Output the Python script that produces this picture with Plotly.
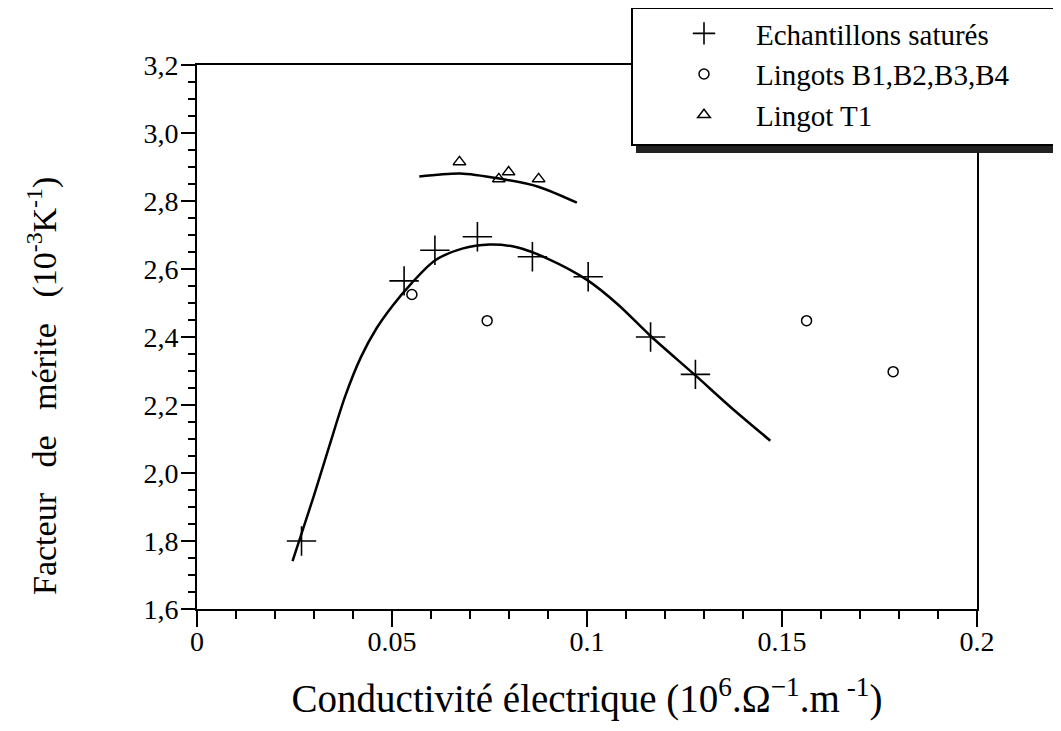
import plotly.graph_objects as go

# Echantillons saturés (+)
sat_x = [0.0268, 0.0531, 0.0610, 0.0719, 0.0860, 0.1003, 0.1163, 0.1278]
sat_y = [1.80, 2.565, 2.655, 2.695, 2.636, 2.577, 2.400, 2.290]

# Lingots B1,B2,B3,B4 (o)
b_x = [0.0551, 0.0744, 0.1563, 0.1785]
b_y = [2.525, 2.448, 2.448, 2.298]

# Lingot T1 (triangles)
t_x = [0.0673, 0.0774, 0.0799, 0.0876]
t_y = [2.915, 2.865, 2.885, 2.865]

# fitted curves
fit_sat_x = [0.0245, 0.0300, 0.0340, 0.0380, 0.0420, 0.0460, 0.0500, 0.0550, 0.0610,
             0.0680, 0.0750, 0.0820, 0.0900, 0.1000, 0.1080, 0.1163, 0.1278, 0.1370,
             0.1470]
fit_sat_y = [1.741, 1.934, 2.082, 2.226, 2.340, 2.425, 2.490, 2.558, 2.625,
             2.660, 2.672, 2.664, 2.630, 2.568, 2.495, 2.403, 2.287, 2.192,
             2.095]

fit_t_x = [0.0570, 0.0675, 0.0775, 0.0875, 0.0974]
fit_t_y = [2.872, 2.881, 2.866, 2.842, 2.795]

x_ticks = [0, 0.05, 0.1, 0.15, 0.2]
x_labels = ["0", "0.05", "0.1", "0.15", "0.2"]
y_ticks = [1.6, 1.8, 2.0, 2.2, 2.4, 2.6, 2.8, 3.0, 3.2]
y_labels = ["1,6", "1,8", "2,0", "2,2", "2,4", "2,6", "2,8", "3,0", "3,2"]

font_family = "Liberation Serif"

fig = go.Figure()

fig.add_trace(go.Scatter(x=fit_sat_x, y=fit_sat_y, mode="lines",
                         line=dict(color="black", width=2.5, shape="spline", smoothing=0.8),
                         showlegend=False, hoverinfo="skip"))
fig.add_trace(go.Scatter(x=fit_t_x, y=fit_t_y, mode="lines",
                         line=dict(color="black", width=2.5, shape="spline", smoothing=0.8),
                         showlegend=False, hoverinfo="skip"))

fig.add_trace(go.Scatter(x=sat_x, y=sat_y, mode="markers", name="Echantillons saturés",
                         marker=dict(symbol="cross-thin", size=21, color="black",
                                     line=dict(color="black", width=1.6))))
fig.add_trace(go.Scatter(x=b_x, y=b_y, mode="markers", name="Lingots B1,B2,B3,B4",
                         marker=dict(symbol="circle-open", size=10, color="black",
                                     line=dict(color="black", width=1.5))))
fig.add_trace(go.Scatter(x=t_x, y=t_y, mode="markers", name="Lingot T1",
                         marker=dict(symbol="triangle-up-open", size=11, color="black",
                                     line=dict(color="black", width=1.5))))

# page coordinates (the page body adds an 8 px offset)
OFF = 8
L, R = 197, 977          # plot area left / right
T, B = 65, 609           # plot area top / bottom
PT = OFF                 # paper top = figure top, so the legend never pushes margins
W, H = 1061 - OFF, 731 - OFF

def px(v):
    return (v - L) / (R - L)

def py(v):
    return (B - v) / (B - PT)

# legend frame with drop shadow (covers the top right corner of the frame)
fig.add_shape(type="rect", xref="paper", yref="paper",
              x0=px(636), x1=px(1070), y0=py(153), y1=py(12),
              fillcolor="#222222", line=dict(width=0), layer="above")
fig.add_shape(type="rect", xref="paper", yref="paper",
              x0=px(632), x1=px(1057), y0=py(145), y1=py(8),
              fillcolor="white", line=dict(color="black", width=2), layer="above")

# y axis title, placed as in the original figure
sp = "\u00a0\u00a0 "
fig.add_annotation(text="Facteur" + sp + "de" + sp + "mérite" + sp + "(10<sup>-3</sup>K<sup>-1</sup>)",
                   xref="paper", yref="paper", x=px(42), y=py(386),
                   xanchor="center", yanchor="middle", textangle=-90,
                   showarrow=False, font=dict(size=34, family=font_family))

fig.update_layout(
    width=W, height=H,
    margin=dict(l=L - OFF, r=W - (R - OFF), t=0, b=H - (B - OFF)),
    paper_bgcolor="white", plot_bgcolor="white",
    font=dict(family=font_family, color="black", size=28),
    legend=dict(x=px(652), y=py(8), xanchor="left", yanchor="top",
                bgcolor="rgba(0,0,0,0)", borderwidth=0,
                font=dict(size=29, family=font_family), itemwidth=94,
                tracegroupgap=0),
    xaxis=dict(range=[0, 0.2], tickvals=x_ticks, ticktext=x_labels,
               showline=True, linecolor="black", linewidth=2, mirror=True,
               ticks="outside", ticklen=16, tickwidth=2, tickcolor="black",
               minor=dict(ticks="outside", ticklen=8, tickwidth=2, dtick=0.01,
                          tickcolor="black"),
               ticklabelstandoff=-10, automargin=False,
               showgrid=False, zeroline=False,
               title=dict(text="Conductivité électrique (10<sup>6</sup>.Ω<sup>−1</sup>.m<sup> -1</sup>)",
                          font=dict(size=39), standoff=29)),
    yaxis=dict(range=[1.6, 3.2], tickvals=y_ticks, ticktext=y_labels,
               domain=[0, (B - T) / (B - PT)],
               showline=True, linecolor="black", linewidth=2, mirror=True,
               ticks="outside", ticklen=14, tickwidth=2, tickcolor="black",
               minor=dict(ticks="outside", ticklen=7, tickwidth=2, dtick=0.05,
                          tickcolor="black"),
               ticklabelstandoff=-3, automargin=False,
               showgrid=False, zeroline=False),
)

fig.write_html("out.html")
